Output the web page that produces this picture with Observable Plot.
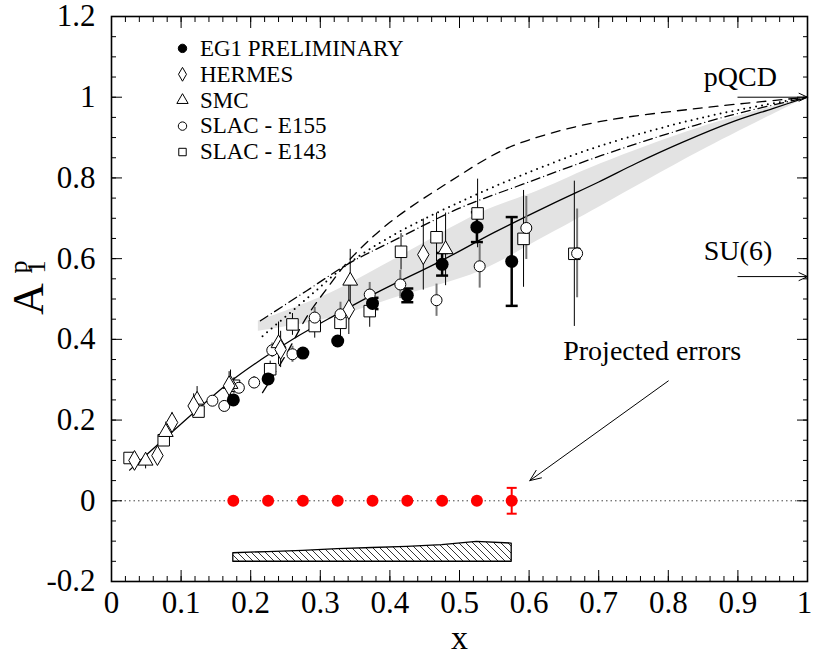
<!DOCTYPE html>
<html>
<head>
<meta charset="utf-8">
<script src="https://cdn.jsdelivr.net/npm/d3@7"></script>
<script src="https://cdn.jsdelivr.net/npm/@observablehq/plot@0.6"></script>
<style>
  body { margin: 0; background: #fff; }
  #chart svg { display: block; }
  #chart svg text { font-family: 'Liberation Serif', 'Times New Roman', serif !important; }
</style>
</head>
<body>
<div id="chart"></div>
<script>
// ---------------- data ----------------
// EG1 preliminary (filled circles)
const eg1X   = [0.175, 0.225, 0.275, 0.325, 0.375, 0.425, 0.475, 0.525, 0.575];
const eg1Y   = [0.250, 0.302, 0.366, 0.396, 0.489, 0.509, 0.586, 0.678, 0.593];
const eg1Err = [0, 0, 0, 0, 0.014, 0.017, 0.028, 0.037, 0.110];

// HERMES (open diamonds)
const hermesX   = [0.033, 0.066, 0.087, 0.118, 0.169, 0.243, 0.341, 0.448];
const hermesY   = [0.100, 0.112, 0.194, 0.235, 0.285, 0.375, 0.474, 0.610];
const hermesErr = [0.015, 0.015, 0.025, 0.030, 0.035, 0.045, 0.062, 0.088];

// SMC (open triangles)
const smcX   = [0.049, 0.078, 0.123, 0.171, 0.240, 0.343, 0.480];
const smcY   = [0.099, 0.170, 0.250, 0.289, 0.390, 0.545, 0.623];
const smcErr = [0.020, 0.025, 0.033, 0.035, 0.053, 0.078, 0.090];

// SLAC - E155 (open circles)
const e155X   = [0.145, 0.162, 0.183, 0.205, 0.231, 0.260, 0.292, 0.329, 0.371, 0.415, 0.467, 0.529, 0.596, 0.669];
const e155Y   = [0.248, 0.235, 0.280, 0.293, 0.373, 0.363, 0.454, 0.462, 0.511, 0.536, 0.497, 0.581, 0.676, 0.613];
const e155Err = [0.012, 0.012, 0.014, 0.015, 0.018, 0.020, 0.025, 0.030, 0.030, 0.035, 0.040, 0.054, 0.078, 0.110];

// SLAC - E143 (open squares)
const e143X   = [0.026, 0.075, 0.125, 0.176, 0.228, 0.260, 0.292, 0.329, 0.371, 0.416, 0.467, 0.526, 0.592, 0.665];
const e143Y   = [0.106, 0.150, 0.221, 0.285, 0.326, 0.437, 0.433, 0.441, 0.470, 0.617, 0.653, 0.712, 0.649, 0.612];
const e143Err = [0.010, 0.012, 0.015, 0.020, 0.020, 0.027, 0.030, 0.035, 0.040, 0.045, 0.060, 0.085, 0.120, 0.180];

// Projected errors (red)
const projX   = [0.175, 0.225, 0.275, 0.325, 0.375, 0.425, 0.475, 0.525, 0.575];
const projY   = [0, 0, 0, 0, 0, 0, 0, 0, 0];
const projErr = [0, 0, 0, 0, 0, 0, 0, 0, 0.032];

// Systematic error band (hatched)
const sysLow  = [-0.151, -0.151, -0.151, -0.151, -0.151, -0.151, -0.151, -0.151, -0.151];
const sysHigh = [-0.130, -0.127, -0.124, -0.120, -0.117, -0.114, -0.110, -0.102, -0.106];

// Grey band
const bandX    = [0.211, 0.315, 0.415, 0.530, 0.616, 0.703, 0.846, 1.000];
const bandLow  = [0.420, 0.453, 0.507, 0.569, 0.648, 0.730, 0.866, 1.000];
const bandHigh = [0.445, 0.515, 0.606, 0.713, 0.770, 0.835, 0.925, 1.000];

// Solid fit curve
const fitX = [0.026, 0.080, 0.166, 0.215, 0.261, 0.315, 0.386, 0.473, 0.550, 0.631, 0.700, 0.755, 0.820, 0.894, 0.950, 1.000];
const fitY = [0.076, 0.160, 0.289, 0.350, 0.401, 0.454, 0.520, 0.594, 0.665, 0.734, 0.790, 0.837, 0.888, 0.940, 0.972, 1.000];

// Dashed curve
const dashX = [0.217, 0.250, 0.281, 0.310, 0.343, 0.400, 0.487, 0.559, 0.616, 0.703, 0.846, 1.000];
const dashY = [0.268, 0.360, 0.457, 0.527, 0.599, 0.690, 0.792, 0.866, 0.903, 0.940, 0.973, 1.000];

// Dotted curve
const dotX = [0.217, 0.280, 0.339, 0.415, 0.540, 0.616, 0.703, 0.850, 1.000];
const dotY = [0.408, 0.500, 0.586, 0.668, 0.771, 0.825, 0.880, 0.950, 1.000];

// Dash-dot curve
const ddX = [0.214, 0.280, 0.343, 0.400, 0.500, 0.592, 0.703, 0.800, 0.889, 1.000];
const ddY = [0.446, 0.520, 0.590, 0.640, 0.725, 0.785, 0.855, 0.910, 0.955, 1.000];

// Legend
const legendNames   = ["EG1 PRELIMINARY", "HERMES", "SMC", "SLAC - E155", "SLAC - E143"];
const legendSymbols = ["circle", "diamond", "triangle", "circle", "square"];
const legendFills   = ["black", "none", "none", "none", "none"];

// Ticks
const xMajor = [0, 0.1, 0.2, 0.3, 0.4, 0.5, 0.6, 0.7, 0.8, 0.9, 1];
const yMajor = [-0.2, 0, 0.2, 0.4, 0.6, 0.8, 1, 1.2];
const xMinor = d3.range(0, 51).map(i => i / 50);
const yMinor = d3.range(-4, 25).map(i => i / 20);

// Annotations
const pqcdValue = 1.0;
const su6Value = 5 / 9;

// -------------- build tables --------------
const zip = (xs, ys, es) => xs.map((x, i) => ({x, y: ys[i], err: es ? es[i] : 0}));
const eg1 = zip(eg1X, eg1Y, eg1Err);
const hermes = zip(hermesX, hermesY, hermesErr);
const smc = zip(smcX, smcY, smcErr);
const e155 = zip(e155X, e155Y, e155Err);
const e143 = zip(e143X, e143Y, e143Err);
const proj = zip(projX, projY, projErr);
const sys = projX.map((x, i) => ({x, lo: sysLow[i], hi: sysHigh[i]}));
const band = bandX.map((x, i) => ({x, lo: bandLow[i], hi: bandHigh[i]}));
const fit = zip(fitX, fitY);
const dash = zip(dashX, dashY);
const dott = zip(dotX, dotY);
const dd = zip(ddX, ddY);

const legendTop = 1.121, legendStep = 0.0642, legendMarkX = 0.102, legendTextX = 0.127;
const legend = legendNames.map((name, i) => ({
  name, symbol: legendSymbols[i], fill: legendFills[i],
  y: legendTop - i * legendStep
}));

const cap = {draw(ctx, size) { const w = Math.sqrt(size / Math.PI); ctx.moveTo(-w, 0); ctx.lineTo(w, 0); }};
const fmt = d => String(Math.round(d * 10) / 10);
const serif = "'Liberation Serif', 'Times New Roman', serif";

const errBars = (data, opts) => Plot.ruleX(data.filter(d => d.err > 0), {x: "x", y1: d => d.y - d.err, y2: d => d.y + d.err, ...opts});

const hatchDefs = () => {
  const defs = d3.create("svg:defs");
  const p = defs.append("pattern").attr("id", "hatch").attr("patternUnits", "userSpaceOnUse")
    .attr("width", 7).attr("height", 7);
  p.append("rect").attr("width", 7).attr("height", 7).attr("fill", "white");
  p.append("path").attr("d", "M0,0L7,7M-1,6L1,8M6,-1L8,1").attr("stroke", "black").attr("stroke-width", 0.8);
  return defs.node();
};

const plot = Plot.plot({
  width: 813,
  height: 657,
  marginLeft: 111,
  marginRight: 6,
  marginTop: 16,
  marginBottom: 76,
  x: {domain: [0, 1]},
  y: {domain: [-0.2, 1.2]},
  style: {fontFamily: serif, fontSize: "30px", color: "black", background: "white", overflow: "visible"},
  marks: [
    hatchDefs,
    Plot.areaY(band, {x: "x", y1: "lo", y2: "hi", fill: "#e3e3e3", curve: "catmull-rom"}),
    Plot.ruleY([0], {stroke: "#444", strokeWidth: 1, strokeDasharray: "1.5,3"}),
    Plot.areaY(sys, {x: "x", y1: "lo", y2: "hi", fill: "url(#hatch)", stroke: "black", strokeWidth: 1.3}),
    Plot.line(fit, {x: "x", y: "y", stroke: "black", strokeWidth: 1.3, curve: "catmull-rom"}),
    Plot.line(dash, {x: "x", y: "y", stroke: "black", strokeWidth: 1.3, strokeDasharray: "9,7", curve: "catmull-rom"}),
    Plot.line(dott, {x: "x", y: "y", stroke: "black", strokeWidth: 2, strokeDasharray: "0,6", strokeLinecap: "round", curve: "catmull-rom"}),
    Plot.line(dd, {x: "x", y: "y", stroke: "black", strokeWidth: 1.3, strokeDasharray: "9,4,0,4", strokeLinecap: "round", curve: "catmull-rom"}),
    // error bars
    errBars(e155, {stroke: "#777", strokeWidth: 2}),
    errBars(e143, {stroke: "black", strokeWidth: 1}),
    errBars(hermes, {stroke: "black", strokeWidth: 1}),
    errBars(smc, {stroke: "black", strokeWidth: 1}),
    errBars(eg1, {stroke: "black", strokeWidth: 2.5}),
    Plot.dot(eg1.filter(d => d.err > 0), {x: "x", y: d => d.y + d.err, symbol: cap, r: 6, stroke: "black", strokeWidth: 2.5}),
    Plot.dot(eg1.filter(d => d.err > 0), {x: "x", y: d => d.y - d.err, symbol: cap, r: 6, stroke: "black", strokeWidth: 2.5}),
    // markers
    Plot.dot(e143, {x: "x", y: "y", symbol: "square", r: 6.5, fill: "white", stroke: "black", strokeWidth: 1}),
    Plot.dot(e155, {x: "x", y: "y", symbol: "circle", r: 5.5, fill: "white", stroke: "black", strokeWidth: 1}),
    Plot.dot(smc, {x: "x", y: "y", symbol: "triangle", r: 5.5, fill: "white", stroke: "black", strokeWidth: 1}),
    Plot.dot(hermes, {x: "x", y: "y", symbol: "diamond", r: 6, fill: "white", stroke: "black", strokeWidth: 1}),
    Plot.dot(eg1, {x: "x", y: "y", symbol: "circle", r: 6.5, fill: "black"}),
    // projected
    errBars(proj, {stroke: "red", strokeWidth: 2}),
    Plot.dot(proj.filter(d => d.err > 0), {x: "x", y: d => d.y + d.err, symbol: cap, r: 5, stroke: "red", strokeWidth: 2}),
    Plot.dot(proj.filter(d => d.err > 0), {x: "x", y: d => d.y - d.err, symbol: cap, r: 5, stroke: "red", strokeWidth: 2}),
    Plot.dot(proj, {x: "x", y: "y", symbol: "circle", r: 6, fill: "red"}),
    // legend
    Plot.dot(legend, {x: legendMarkX, y: "y", symbol: "symbol", fill: "fill", stroke: "black", strokeWidth: 1, r: 4.2}),
    Plot.text(legend, {x: legendTextX, y: "y", text: "name", textAnchor: "start", lineAnchor: "middle", fontSize: 23}),
    // annotations
    Plot.arrow([{x1: 0.9, x2: 1.0, y: pqcdValue}], {x1: "x1", x2: "x2", y1: "y", y2: "y", stroke: "black", strokeWidth: 1, headLength: 14, headAngle: 50}),
    Plot.arrow([{x1: 0.9, x2: 1.0, y: su6Value}], {x1: "x1", x2: "x2", y1: "y", y2: "y", stroke: "black", strokeWidth: 1, headLength: 14, headAngle: 50}),
    Plot.text(["pQCD"], {x: 0.851, y: 1.051, text: d => d, textAnchor: "start", lineAnchor: "middle", fontSize: 28}),
    Plot.text(["SU(6)"], {x: 0.851, y: 0.62, text: d => d, textAnchor: "start", lineAnchor: "middle", fontSize: 28}),
    Plot.text(["Projected errors"], {x: 0.649, y: 0.37, text: d => d, textAnchor: "start", lineAnchor: "middle", fontSize: 28}),
    Plot.arrow([{x1: 0.8, y1: 0.297, x2: 0.601, y2: 0.05}], {x1: "x1", y1: "y1", x2: "x2", y2: "y2", stroke: "black", strokeWidth: 1, headLength: 18, headAngle: 45}),
    // axes: inward ticks on all sides
    Plot.axisX({anchor: "bottom", ticks: xMinor, tickSize: -5, tickFormat: () => "", label: null}),
    Plot.axisX({anchor: "bottom", ticks: xMajor, tickSize: -11, tickFormat: () => "", label: null}),
    Plot.axisX({anchor: "top", ticks: xMinor, tickSize: -5, tickFormat: () => "", label: null}),
    Plot.axisX({anchor: "top", ticks: xMajor, tickSize: -11, tickFormat: () => "", label: null}),
    Plot.axisY({anchor: "left", ticks: yMinor, tickSize: -5, tickFormat: () => "", label: null}),
    Plot.axisY({anchor: "left", ticks: yMajor, tickSize: -11, tickFormat: () => "", label: null}),
    Plot.axisY({anchor: "right", ticks: yMinor, tickSize: -5, tickFormat: () => "", label: null}),
    Plot.axisY({anchor: "right", ticks: yMajor, tickSize: -11, tickFormat: () => "", label: null}),
    Plot.axisX({anchor: "bottom", ticks: xMajor.slice(0, -1), tickSize: 0, tickPadding: 9, tickFormat: fmt, label: null, fontSize: 31}),
    Plot.axisX({anchor: "bottom", ticks: xMajor.slice(-1), tickSize: 0, tickPadding: 9, tickFormat: fmt, label: null, fontSize: 31, dx: -3}),
    Plot.axisY({anchor: "left", ticks: yMajor, tickSize: 0, tickPadding: 16, tickFormat: fmt, label: null, fontSize: 31}),
    Plot.text(["x"], {frameAnchor: "bottom", dy: 57, text: d => d, lineAnchor: "middle", fontSize: 34}),
    Plot.frame({stroke: "black", strokeWidth: 1.6})
  ]
});

// y-axis title A_1^p (rotated, with sub/superscript)
const svg = d3.select(plot);
const g = svg.append("g").attr("transform", "translate(43,299) rotate(-90)")
  .attr("font-family", serif).attr("fill", "black");
g.append("text").attr("x", 0).attr("y", 0).attr("font-size", 44).text("A");
g.append("text").attr("x", 32).attr("y", 2).attr("font-size", 26).text("1");
g.append("text").attr("x", 32).attr("y", -16).attr("font-size", 26).text("p");

document.getElementById("chart").appendChild(plot);
</script>
</body>
</html>
